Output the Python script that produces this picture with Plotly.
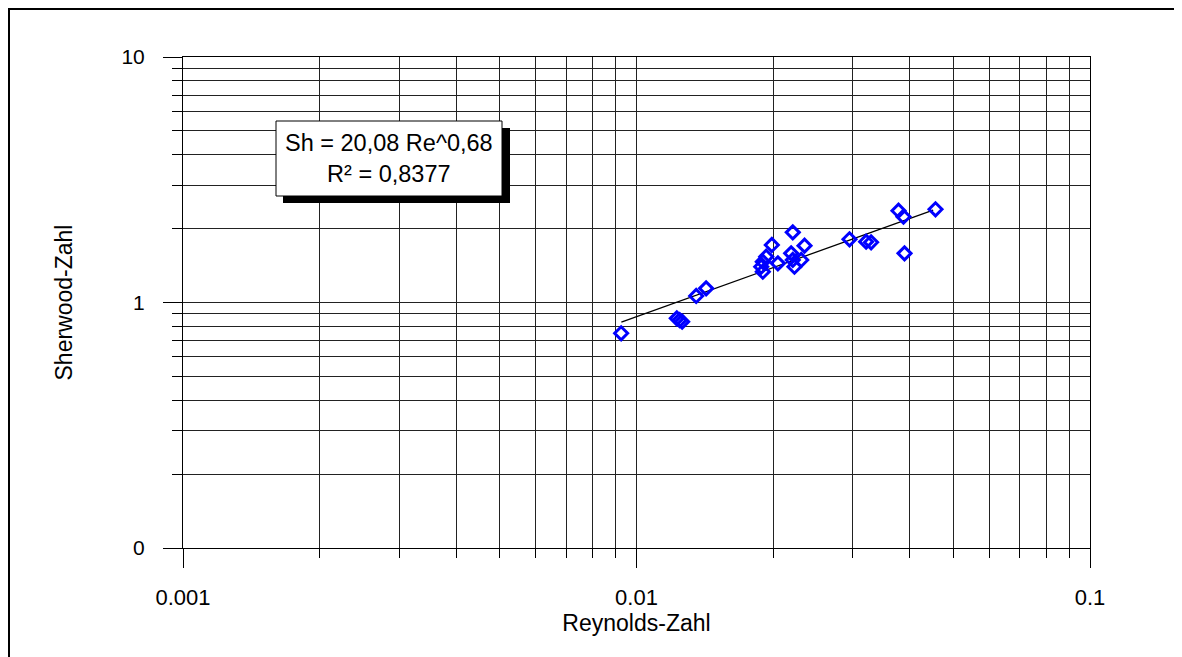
import plotly.graph_objects as go

reynolds = [0.00925, 0.01227, 0.01245, 0.01261, 0.01354, 0.01424,
            0.01884, 0.01899, 0.01899, 0.01932, 0.01988, 0.0205,
            0.02211, 0.02193, 0.02211, 0.0223, 0.02308, 0.02347,
            0.02949, 0.03209, 0.03291, 0.03782, 0.03879, 0.03899, 0.04564]
sherwood = [0.749, 0.862, 0.848, 0.835, 1.063, 1.142,
            1.399, 1.335, 1.466, 1.537, 1.715, 1.444,
            1.931, 1.586, 1.49, 1.399, 1.49, 1.704,
            1.809, 1.769, 1.759, 2.365, 2.236, 1.586, 2.397]

fit_x = [0.00926, 0.0451]
fit_y = [0.832, 2.38]

x_tickvals = [0.001, 0.01, 0.1]
x_ticktext = ["0.001", "0.01", "0.1"]
y_tickvals = [0.1, 1, 10]
y_ticktext = ["0", "1", "10"]

equation_text = "Sh = 20,08 Re^0,68<br>R² = 0,8377"

x_minor = [m * 10.0 ** e for e in (-3, -2) for m in range(2, 10)]
y_minor = [m * 10.0 ** e for e in (-1, 0) for m in range(2, 10)]

FONT = "Liberation Sans, Arial, sans-serif"

fig = go.Figure()
fig.add_trace(go.Scatter(x=fit_x, y=fit_y, mode="lines",
                         line=dict(color="black", width=1.3),
                         showlegend=False, hoverinfo="skip"))
fig.add_trace(go.Scatter(x=reynolds, y=sherwood, mode="markers",
                         marker=dict(symbol="diamond-open", size=10,
                                     color="#0000FF",
                                     line=dict(color="#0000FF", width=3)),
                         showlegend=False))

# page offset of the figure (body margin)
OX, OY = 8, 8
W, H = 1174, 649
L, R, T, B = 175, 1082, 49, 540   # figure coordinates of plot area
pw, ph = R - L, B - T


def px(x):
    """page x pixel -> paper coordinate"""
    return (x - OX - L) / pw


def py(y):
    """page y pixel -> paper coordinate"""
    return (B - (y - OY)) / ph


axis_common = dict(
    type="log",
    showline=True, mirror=True, linecolor="black", linewidth=1,
    showgrid=True, gridcolor="#222", gridwidth=1,
    ticks="outside", ticklen=19, tickcolor="black", tickwidth=1,
    zeroline=False,
)

fig.update_xaxes(
    **axis_common,
    range=[-3, -1],
    tickmode="array", tickvals=x_tickvals, ticktext=x_ticktext,
    tickfont=dict(family=FONT, size=22, color="black"),
    ticklabelstandoff=11,
    minor=dict(tickmode="array", tickvals=x_minor, ticks="outside",
               ticklen=9, tickcolor="black", showgrid=True,
               gridcolor="#222", gridwidth=1),
    title=dict(text="Reynolds-Zahl", font=dict(family=FONT, size=23, color="black"),
               standoff=0),
)
fig.update_yaxes(
    **axis_common,
    range=[-1, 1],
    tickmode="array", tickvals=y_tickvals, ticktext=y_ticktext,
    tickfont=dict(family=FONT, size=21, color="black"),
    ticklabelstandoff=14,
    minor=dict(tickmode="array", tickvals=y_minor, ticks="outside",
               ticklen=10, tickcolor="black", showgrid=True,
               gridcolor="#222", gridwidth=1),
    title=dict(text="Sherwood-Zahl", font=dict(family=FONT, size=23, color="black"),
               standoff=42),
)

shapes = [
    # Schatten des Textfeldes
    dict(type="rect", xref="paper", yref="paper", layer="above",
         x0=px(283), x1=px(510), y0=py(203), y1=py(128),
         fillcolor="black", line=dict(width=0)),
    # Textfeld
    dict(type="rect", xref="paper", yref="paper", layer="above",
         x0=px(276), x1=px(502), y0=py(196), y1=py(121),
         fillcolor="white", line=dict(color="black", width=1)),
    # äußerer Rahmen
    dict(type="rect", xref="paper", yref="paper", layer="above",
         x0=px(9), x1=px(1180), y0=py(700), y1=py(9),
         fillcolor="rgba(0,0,0,0)", line=dict(color="black", width=2)),
]

fig.add_annotation(xref="paper", yref="paper", x=px(389), y=py(158.5),
                   text=equation_text, showarrow=False,
                   font=dict(family=FONT, size=23.5, color="black"),
                   xanchor="center", yanchor="middle", align="center")

fig.update_layout(
    width=W, height=H,
    margin=dict(l=L, r=W - R, t=T, b=H - B, pad=0),
    paper_bgcolor="white", plot_bgcolor="white",
    shapes=shapes,
    font=dict(family=FONT, color="black"),
)

fig.write_html("out.html")
